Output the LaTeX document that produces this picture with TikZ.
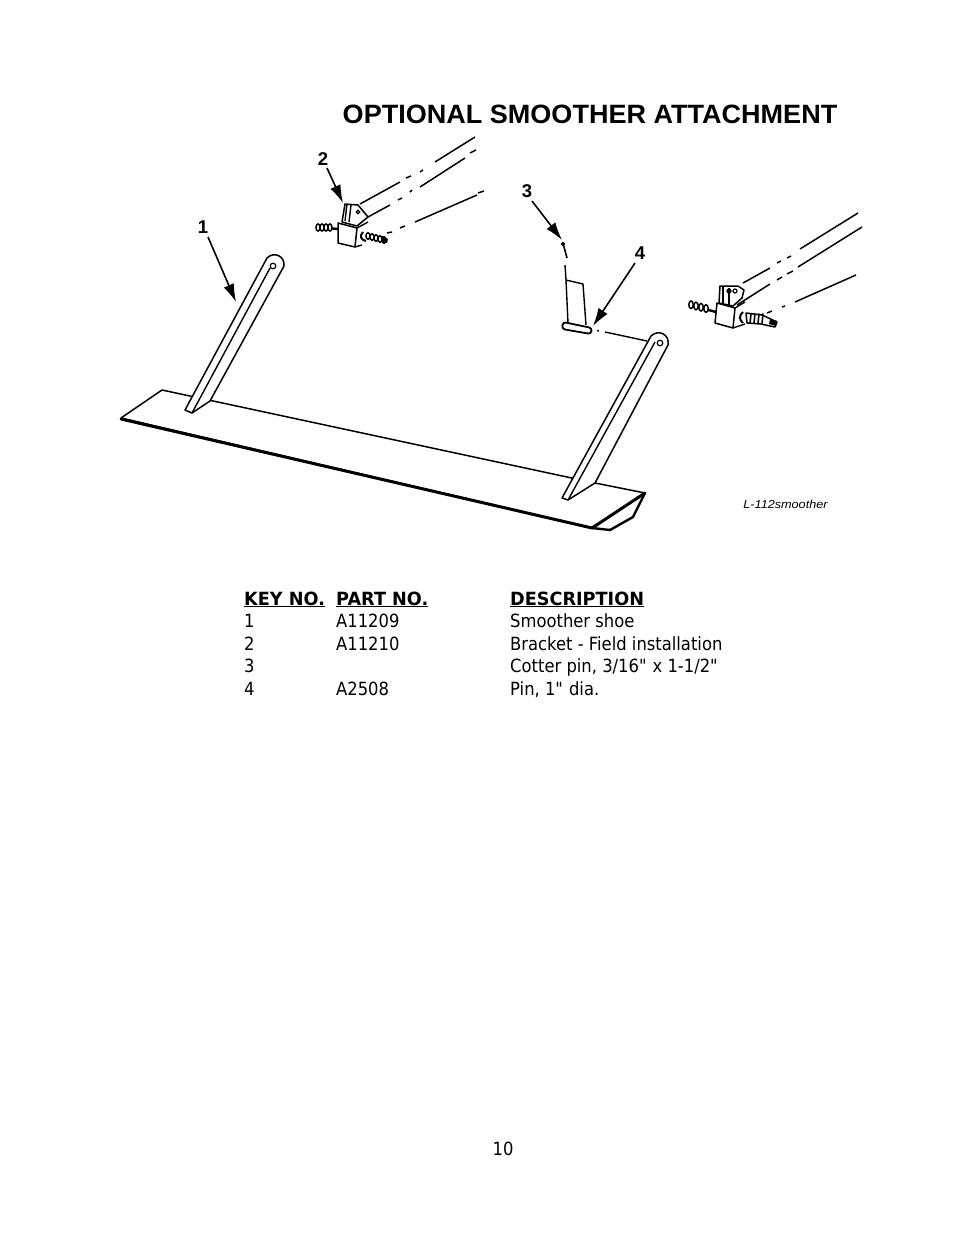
\documentclass[tikz,border=0pt]{standalone}
\usepackage{fontspec}
\setmainfont[FakeStretch=0.9,BoldFeatures={FakeStretch=0.97}]{DejaVu Sans}
\newfontfamily\partfont{Liberation Sans}
\newfontfamily\titlefont[FakeStretch=1.02]{Liberation Sans}
\usetikzlibrary{arrows.meta}
\tikzset{
  part/.style={line width=1.5pt,line join=round,fill=white},
  edge line/.style={line width=1.4pt,line join=round},
  heavy/.style={line width=3pt,line join=round,line cap=round},
  center line/.style={line width=1.5pt},
  ring/.style={line width=1.5pt,fill=white},
  callout/.style={line width=1.6pt,-{Latex[length=18pt,width=11pt]}},
  key label/.style={font=\partfont\bfseries\fontsize{18.5}{18}\selectfont,inner sep=0pt},
  row text/.style={anchor=base west,inner sep=0pt,font=\fontsize{18.2}{20}\selectfont},
}
\begin{document}
\begin{tikzpicture}[x=1pt,y=-1pt]
\useasboundingbox (0,0) rectangle (954,1235);
\node[inner sep=0pt,font=\titlefont\bfseries\fontsize{26.5}{27}\selectfont] (title) at (590,114) {OPTIONAL SMOOTHER ATTACHMENT};
% shoe
\draw[part] (121,418) -- (162,390) -- (595,483) -- (645,493) -- (592,528) -- cycle;
\draw[heavy] (121,419) -- (592,528) -- (645,493);
\draw[line width=2.4pt,line join=round] (592,528) -- (610,530) -- (633,517) -- (645,493);
% shanks
\draw[part] (185,410) -- (192,413) -- (210,401) -- (284,266) .. controls (285,256) and (274,251) .. (267,258) -- cycle;
\draw[edge line] (192,413) -- (270,268);
\draw[line width=1.2pt] (273,266) circle (2.8);
\draw[part] (562,498) -- (568,500) -- (595,483) -- (668,345) .. controls (670,334) and (658,329) .. (651,336) -- cycle;
\draw[edge line] (568,500) -- (655,342);
\draw[line width=1.2pt] (660,343) circle (2.8);
% center lines left bracket
\draw[center line] (360,204) -- (400,182) (406,178) -- (411,176) (420,172) -- (423,170) (435,162) -- (475,137);
\draw[center line] (368,217) -- (390,205) (398,200) -- (402,198) (410,192) -- (412,190) (420,187) -- (465,158) (470,153) -- (476,150);
\draw[center line] (387,233) -- (392,232) (400,228) -- (405,226) (415,222) -- (477,195) (478,193) -- (484,191);
% left bracket
\draw[line width=2.4pt] (316,227) -- (338,229);
\foreach \x in {318,322,326,330}
  \draw[ring] (\x,227.5) ellipse (2 and 3.6);
\draw[part] (342,222) -- (345,204) -- (358,205) -- (368,217) -- (357,226) -- cycle;
\draw[edge line] (347,204) -- (345,221) (351,205) -- (349,222);
\draw[line width=1.2pt] (358,212) circle (1.8);
\draw[part] (338,223) -- (357,228) -- (355,247) -- (338,243) -- cycle;
\draw[edge line] (357,228) -- (368,222) (355,247) -- (362,245);
\draw[line width=2pt] (363,232) .. controls (359,236) and (361,240) .. (366,241);
\foreach \x in {368,372,376,380,384}
  \draw[ring] (\x,236+\x/4-92) ellipse (2 and 3.2);
\fill (382,236) -- (388,239) -- (387,243) -- (381,242) -- cycle;
% center lines right bracket
\draw[center line] (743,283) -- (770,268) (777,263) -- (781,261) (787,258) -- (791,256) (800,249) -- (858,213);
\draw[center line] (737,305) -- (770,284) (777,280) -- (782,277) (787,274) -- (793,271) (798,267) -- (862,227);
\draw[center line] (767,313) -- (772,311) (782,307) -- (785,306) (795,302) -- (856,275);
% right bracket
\draw[line width=2.4pt] (690,305) -- (716,312);
\foreach \x in {691,696,701,706}
  \draw[ring] (\x,305+\x/4-173) ellipse (2.2 and 3.8);
\draw[part] (719,303) -- (720,286) -- (738,286) -- (744,290) -- (742,298) -- (733,306) -- cycle;
\draw[edge line] (723,287) -- (723,303) (729,288) -- (729,306);
\draw[line width=1.2pt] (735,291) circle (2) (729,291) circle (2);
\draw[part] (717,303) -- (735,308) -- (733,328) -- (715,323) -- cycle;
\draw[edge line] (735,308) -- (745,302) (733,328) -- (745,324);
\draw[line width=2pt] (743,312) .. controls (739,315) and (739,320) .. (743,323);
\draw[part] (746,313) -- (762,315) -- (777,322) -- (775,327) -- (761,324) -- (747,323) -- cycle;
\foreach \x in {751,755,759,763}
  \draw[line width=1.6pt] (\x,313.5) -- (\x-1,323.5);
\fill (770,319) -- (777,321) -- (776,326) -- (769,324) -- cycle;
% pin and cotter
\draw[line width=1.6pt,rounded corners=1pt] (563,243) -- (564,247) -- (567,258);
\draw[line width=1.3pt] (563,244) circle (1.5);
\draw[edge line] (565,265) -- (566,280) -- (583,284) -- (586,325);
\draw[edge line] (566,280) -- (568,323);
\draw[line width=1.8pt,rounded corners=3pt,fill=white] (563,322) -- (592,328) -- (591,334) -- (562,329) -- cycle;
\draw[line width=1.4pt] (597,330.5) -- (599,331) (605,332) -- (647,341);
% callouts
\node[key label] (key1) at (203,227) {1};
\coordinate (tip1) at (236,302);
\draw[callout] (key1) ++(5,10) -- (tip1);
\node[key label] (key2) at (323,159) {2};
\coordinate (tip2) at (343,203);
\draw[callout] (key2) ++(4,9) -- (tip2);
\node[key label] (key3) at (527,191) {3};
\coordinate (tip3) at (562,240);
\draw[callout] (key3) ++(5,10) -- (tip3);
\node[key label] (key4) at (640,253) {4};
\coordinate (tip4) at (593,326);
\draw[callout] (key4) ++(-5,10) -- (tip4);
\node[inner sep=0pt,xscale=1.1,font=\partfont\itshape\fontsize{11.5}{12}\selectfont] (drawing) at (785.5,504) {L-112smoother};
% parts list
\node[row text] (headkey) at (244,605) {\textbf{\underline{KEY NO.}}};
\node[row text] (headpart) at (336,605) {\textbf{\underline{PART\ NO.}}};
\node[row text] (headdesc) at (510,605) {\textbf{\underline{DESCRIPTION}}};
\foreach \k/\p/\d [count=\i] in {1/A11209/Smoother shoe,2/A11210/Bracket - Field installation,3//{Cotter pin, 3/16\textquotedbl{} x 1-1/2\textquotedbl},4/A2508/{Pin, 1\textquotedbl{} dia.}}{
  \node[row text] (key-\i) at (244,605+22.6*\i) {\k};
  \node[row text] (part-\i) at (336,605+22.6*\i) {\p};
  \node[row text] (desc-\i) at (510,605+22.6*\i) {\d};
}
\node[inner sep=0pt,font=\fontsize{18.2}{20}\selectfont] (page) at (503,1149) {10};
\end{tikzpicture}
\end{document}
